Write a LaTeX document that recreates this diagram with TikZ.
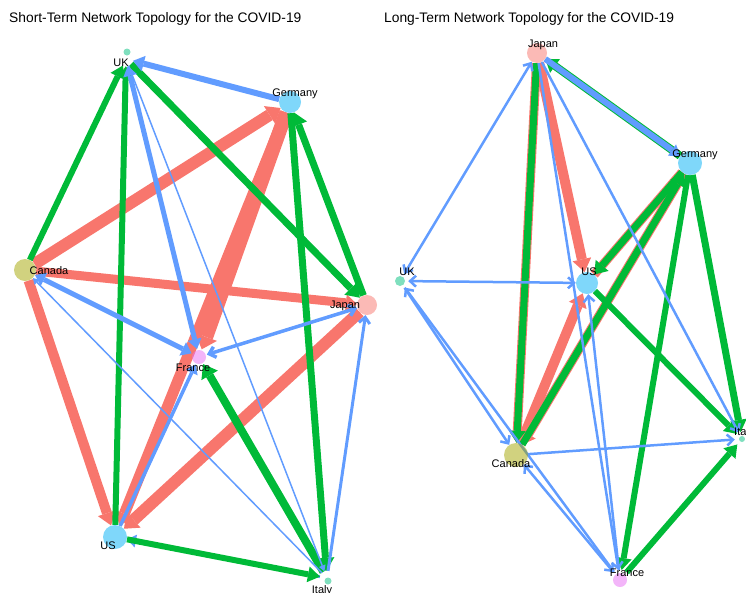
\documentclass[tikz,border=0pt]{standalone}
\usepackage{fontspec}
\setmainfont{Liberation Sans}
\usetikzlibrary{arrows.meta}
\definecolor{eR}{HTML}{F8766D}
\definecolor{eG}{HTML}{00BA38}
\definecolor{eB}{HTML}{619CFF}
\definecolor{vRed}{HTML}{F8766D}
\definecolor{vOl}{HTML}{A3A500}
\definecolor{vTe}{HTML}{00BF7D}
\definecolor{vBl}{HTML}{00B0F6}
\definecolor{vPu}{HTML}{E76BF3}
\begin{document}
\begin{tikzpicture}[x=1pt,y=-1pt,
 vtx/.style={circle, inner sep=0pt, minimum size=#1},
 lbl/.style={font=\fontsize{11}{13}\selectfont, inner sep=0pt},
 ttl/.style={font=\fontsize{13.8}{16}\selectfont, anchor=west, inner sep=0pt},
 eg/.style={draw=eG, line width=#1},
 er/.style={draw=eR, line width=#1},
 eb/.style={draw=eB, line width=#1},
 hd/.style 2 args={arrows={-Triangle[length=#1,width=#2,line width=0pt]}},
 hh/.style 2 args={arrows={Triangle[length=#1,width=#2,line width=0pt]-Triangle[length=#1,width=#2,line width=0pt]}},
 bd/.style={arrows={-Straight Barb[length=6pt,width=11pt]}},
 bb/.style={arrows={Straight Barb[length=6pt,width=11pt]-Straight Barb[length=6pt,width=11pt]}},
 vfill/.style={fill=#1, opacity=0.5},
]
\useasboundingbox (0,0) rectangle (746,592);
\node[ttl] at (9,19) {Short-Term Network Topology for the COVID-19};
\node[ttl] at (384,19) {Long-Term Network Topology for the COVID-19};

% ---------------- left panel vertices
\node[vtx=14] (lUK) at (126,59) {};
\node[vtx=22] (lGer) at (290,102) {};
\node[vtx=22] (lCan) at (25,270) {};
\node[vtx=20] (lJap) at (367,305) {};
\node[vtx=16] (lFra) at (199,357) {};
\node[vtx=24] (lUS) at (115,537) {};
\node[vtx=14] (lIta) at (327,578) {};

% red
\draw[er=12, hd={13pt}{21pt}] (lCan) -- (lGer);
\draw[er=9, hd={11pt}{17pt}] (lCan) -- (lJap);
\draw[er=14, hd={13pt}{23pt}] (lGer) -- (lFra);
\draw[er=11, hd={13pt}{20pt}] (lGer) -- (lUS);
\draw[er=10, hd={13pt}{19pt}] (lCan) -- (lUS);
\draw[er=12, hd={13pt}{21pt}] (lJap) -- (lUS);
% blue hidden under green
\draw[eb=3, hd={9pt}{13pt}] (lIta) -- (lUS);
% green
\draw[eg=6, hd={12pt}{16pt}] (lCan) -- (lUK);
\draw[eg=6, hd={12pt}{16pt}] (lUS) -- (lUK);
\draw[eg=7, hd={13pt}{18pt}] (lUK) -- (lJap);
\draw[eg=7, hd={13pt}{18pt}] (lJap) -- (lGer);
\draw[eg=7, hd={13pt}{18pt}] (lGer) -- (lIta);
\draw[eg=8, hd={13pt}{19pt}] (lIta) -- (lFra);
\draw[eg=6, hd={12pt}{16pt}] (lUS) -- (lIta);
% blue
\draw[eb=6, hd={11pt}{16pt}] (lGer) -- (lUK);
\draw[eb=5, hh={10pt}{14pt}] (lUK) -- (lFra);
\draw[eb=1.5, hd={6pt}{7pt}] (lUK) -- (lIta);
\draw[eb=3.5, bb] (lJap) -- (lFra);
\draw[eb=5, hh={10pt}{15pt}] (lCan) -- (lFra);
\draw[eb=1.5, hd={6pt}{7pt}] (lIta) -- (lCan);
\draw[eb=3.5, hd={9pt}{13pt}] (lUS) -- (lFra);
\draw[eb=3, bd] (lIta) -- (lJap);

% vertex discs
\fill[vfill=vTe] (127,52) circle (3.5);
\fill[vfill=vBl] (lGer) circle (11);
\fill[vfill=vOl] (lCan) circle (11);
\fill[vfill=vRed] (lJap) circle (10);
\fill[vfill=vPu] (lFra) circle (7);
\fill[vfill=vBl] (lUS) circle (12);
\fill[vfill=vTe] (328,581) circle (3.5);

\node[lbl] at (121,63) {UK};
\node[lbl] at (295,94) {Germany};
\node[lbl] at (49,271) {Canada};
\node[lbl] at (345,306) {Japan};
\node[lbl] at (193,368) {France};
\node[lbl] at (108,546) {US};
\node[lbl] at (322,591) {Italy};

% ---------------- right panel vertices
\node[vtx=20] (rJap) at (537,53) {};
\node[vtx=24] (rGer) at (690,163) {};
\node[vtx=16] (rUK) at (400,281) {};
\node[vtx=22] (rUS) at (587,283) {};
\node[vtx=24] (rCan) at (516,455) {};
\node[vtx=14] (rIta) at (742,439) {};
\node[vtx=20] (rFra) at (620,580) {};

% red
\draw[er=9, hd={12pt}{17pt}] (rJap) -- (rCan);
\draw[er=9, hd={12pt}{17pt}] (rGer) -- (rCan);
\draw[er=9] (rUS) -- (rGer);
\draw[er=10, hd={13pt}{19pt}] (rJap) -- (rUS);
\draw[er=10, hd={13pt}{19pt}] (rCan) -- (rUS);
% green
\draw[eg=8, hd={12pt}{17pt}] (rGer) -- (rJap);
\draw[eg=7, hd={12pt}{17pt}] (rJap) -- (rCan);
\draw[eg=7, hd={12pt}{17pt}] (rCan) -- (rGer);
\draw[eg=7, hd={12pt}{17pt}] (rGer) -- (rUS);
\draw[eg=6, hd={12pt}{16pt}] (rGer) -- (rFra);
\draw[eg=7, hd={12pt}{17pt}] (rGer) -- (rIta);
\draw[eg=6, hd={12pt}{16pt}] (rUS) -- (rIta);
\draw[eg=6, hd={12pt}{16pt}] (rFra) -- (rIta);
% blue
\draw[eb=6, hd={10pt}{14pt}] (rJap) -- (rGer);
\draw[eb=2.5, bb] (rUK) -- (rJap);
\draw[eb=2.5, bb] (rUK) -- (rUS);
\draw[eb=2.5, bd] (rUK) -- (rCan);
\draw[eb=2.5, bd] (rFra) -- (rUK);
\draw[eb=2.5, bb] (rCan) -- (rFra);
\draw[eb=2.5, bd] (rCan) -- (rIta);
\draw[eb=2.5, bd] (rJap) -- (rIta);
\draw[eb=2.5, bd] (rJap) -- (rFra);
\draw[eb=2.5, bd] (rFra) -- (rUS);

% vertex discs
\fill[vfill=vRed] (rJap) circle (10);
\fill[vfill=vBl] (rGer) circle (12);
\fill[vfill=vTe] (rUK) circle (5);
\fill[vfill=vBl] (rUS) circle (11);
\fill[vfill=vOl] (rCan) circle (12);
\fill[vfill=vTe] (rIta) circle (3);
\fill[vfill=vPu] (rFra) circle (7);

\node[lbl] at (543,45) {Japan};
\node[lbl] at (695,155) {Germany};
\node[lbl] at (407,272) {UK};
\node[lbl] at (589,272) {US};
\node[lbl] at (511,464) {Canada};
\node[lbl, anchor=west] at (734,433) {Italy};
\node[lbl] at (627,573) {France};
\end{tikzpicture}
\end{document}
